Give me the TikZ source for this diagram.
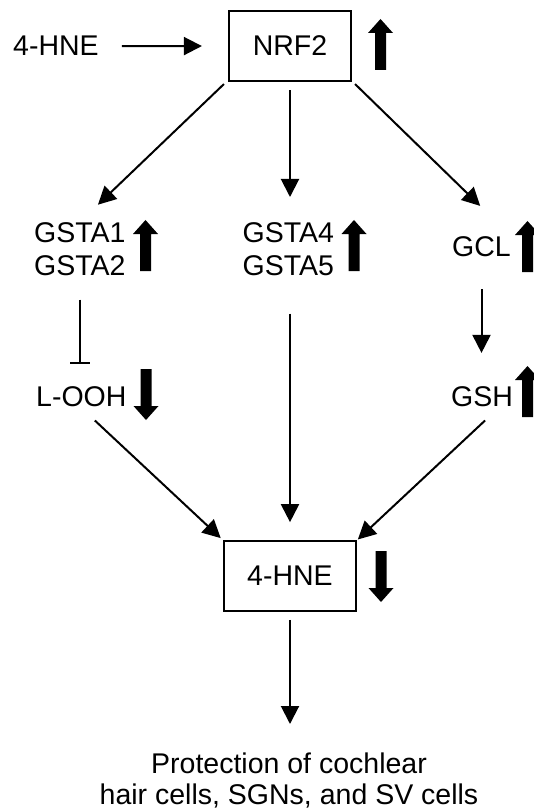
\documentclass[tikz,border=0pt]{standalone}
\usepackage{fontspec}
\setmainfont{Liberation Sans}
\usetikzlibrary{arrows.meta}
\tikzset{
  txt/.style={inner sep=0pt, font=\fontsize{28.5}{33}\selectfont},
  boxnode/.style={draw, line width=2.2pt, inner sep=0pt, font=\fontsize{28.5}{33}\selectfont},
  conn/.style={line width=2pt, -{Triangle[length=18pt,width=18pt]}},
  inhib/.style={line width=2pt, -{Bar[width=20pt,line width=2pt]}},
  pics/blockup/.style={code={\fill (-5.5,0) -- (5.5,0) -- (5.5,-37) -- (12.5,-37) -- (0,-51) -- (-12.5,-37) -- (-5.5,-37) -- cycle;}},
  pics/blockdown/.style={code={\fill (-5.5,0) -- (5.5,0) -- (5.5,37) -- (12.5,37) -- (0,51) -- (-12.5,37) -- (-5.5,37) -- cycle;}}
}
\begin{document}
\begin{tikzpicture}[x=1pt,y=-1pt]
\useasboundingbox (0,0) rectangle (534,810);
\clip (0,0) rectangle (534,810);
% nodes
\node[txt, anchor=base west] (hnein) at (13,56) {4-HNE};
\node[boxnode, minimum width=122pt, minimum height=70pt] (nrf2) at (290,46) {NRF2};
\node[txt, anchor=north west, align=left] (gsta12) at (34,222) {GSTA1\\GSTA2};
\node[txt, anchor=north west, align=left] (gsta45) at (242.5,222) {GSTA4\\GSTA5};
\node[txt, anchor=base west] (gcl) at (452,256) {GCL};
\node[txt, anchor=base west] (looh) at (36,406) {L-OOH};
\node[txt, anchor=base west] (gsh) at (451,406) {GSH};
\node[boxnode, minimum width=132pt, minimum height=69.5pt] (hne) at (290,576) {4-HNE};
\node[txt, anchor=north, align=center, font=\fontsize{28.5}{31}\selectfont] (prot) at (289,753) {Protection of cochlear\\hair cells, SGNs, and SV cells};
% block arrows
\pic at (380.5,70) {blockup};
\pic at (145.5,271) {blockup};
\pic at (354,271) {blockup};
\pic at (527.5,272) {blockup};
\pic at (527.5,417) {blockup};
\pic at (146,369) {blockdown};
\pic at (381,551) {blockdown};
% connectors
\draw[conn, shorten <=23pt, shorten >=26pt] (hnein.east) -- (nrf2.west);
\draw[conn, shorten >=25pt] (nrf2.south west) ++(-4,2) -- (gsta12.north);
\draw[conn, shorten <=8pt, shorten >=25pt] (nrf2.south) -- (nrf2.south |- gsta45.north);
\draw[conn, shorten >=43pt] (nrf2.south east) ++(3,2) -- (gcl.north east);
\draw[inhib, shorten <=24pt, shorten >=22pt] (gsta12.south) -- (gsta12.south |- looh.north);
\draw[conn, shorten <=33pt, shorten >=33pt] (gcl.south) -- (gcl.south |- gsh.north);
\draw[conn, shorten <=38pt, shorten >=18pt] (hne.north |- gsta45.south) -- (hne.north);
\draw[conn, shorten >=3pt] (looh.south) ++(13.5,14) -- (hne.north west);
\draw[conn, shorten >=1pt] (gsh.south) ++(3,14) -- (hne.north east);
\draw[conn, shorten <=8pt, shorten >=29pt] (hne.south) -- (hne.south |- prot.north);
\end{tikzpicture}
\end{document}
